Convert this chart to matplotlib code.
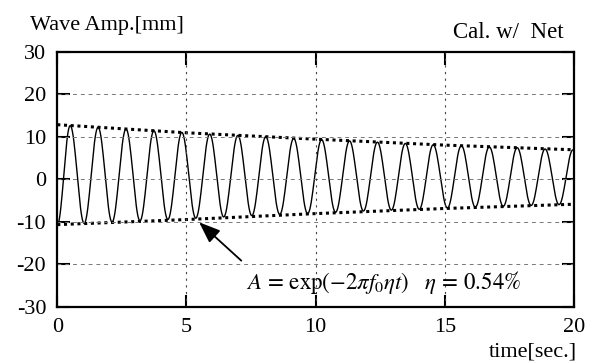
import numpy as np
import matplotlib
matplotlib.use('Agg')
import matplotlib.pyplot as plt

plt.rcParams['font.family'] = ['Liberation Serif', 'DejaVu Serif']
plt.rcParams['mathtext.fontset'] = 'stix'
plt.rcParams['axes.unicode_minus'] = False

# wave extrema (time [s], amplitude [mm])
peak_t = [0.50, 1.58, 2.66, 3.74, 4.82, 5.90, 6.99, 8.07, 9.15, 10.23,
          11.31, 12.39, 13.47, 14.55, 15.64, 16.72, 17.80, 18.88, 19.96]
peak_v = [12.6, 12.2, 11.8, 11.4, 11.0, 10.6, 10.3, 10.0, 9.6, 9.3,
          9.0, 8.7, 8.4, 8.1, 7.9, 7.6, 7.4, 7.1, 6.9]
trough_t = [0.00, 1.04, 2.12, 3.20, 4.28, 5.36, 6.44, 7.53, 8.61, 9.69,
            10.77, 11.85, 12.93, 14.01, 15.10, 16.18, 17.26, 18.34, 19.42]
trough_v = [-10.8, -10.4, -10.1, -9.8, -9.5, -9.2, -8.9, -8.6, -8.3, -8.1,
            -7.8, -7.5, -7.3, -7.1, -6.8, -6.6, -6.4, -6.2, -6.0]

# fitted envelope A = exp(-2 pi f0 eta t)
env_t = [0, 5, 10, 15, 20]
env_upper = [12.8, 10.9, 9.4, 8.0, 6.9]
env_lower = [-10.7, -9.5, -8.1, -6.9, -5.9]

# join extrema with half-cosine arcs
ext_t = []
ext_v = []
for k in range(len(trough_t)):
    ext_t += [trough_t[k], peak_t[k]]
    ext_v += [trough_v[k], peak_v[k]]
wave_t = []
wave_v = []
for k in range(len(ext_t) - 1):
    s = np.linspace(0, 1, 20)
    wave_t += list(ext_t[k] + (ext_t[k+1] - ext_t[k]) * s)
    wave_v += list(ext_v[k] + (ext_v[k+1] - ext_v[k]) * (1 - np.cos(np.pi * s)) / 2)

fig = plt.figure(figsize=(5.93, 3.63), dpi=100)
ax = fig.add_axes([0.0966, 0.155, 0.8714, 0.703])

ax.plot(wave_t, wave_v, color='black', lw=1.0)
ax.plot(env_t, env_upper, color='black', lw=2.2, linestyle=(0, (1, 1.2)))
ax.plot(env_t, env_lower, color='black', lw=2.2, linestyle=(0, (1, 1.2)))

ax.set_xlim(0, 20)
ax.set_ylim(-30, 30)
ax.set_xticks([0, 5, 10, 15, 20])
ax.set_yticks([-30, -20, -10, 0, 10, 20, 30])
for y in [-20, -10, 0, 10, 20]:
    ax.axhline(y, color='#777777', lw=0.7, linestyle=(0, (4, 4)))
for x in [5, 10, 15]:
    ax.axvline(x, color='#444444', lw=0.8, linestyle=(0, (2, 4)))

ax.tick_params(direction='in', length=9, width=1.5, labelsize=16,
               top=True, right=True)
ax.tick_params(axis='x', pad=8)
ax.tick_params(axis='y', pad=8)
for sp in ax.spines.values():
    sp.set_linewidth(1.6)

fig.text(0.05, 0.93, 'Wave Amp.[mm]', fontsize=16, va='center')
fig.text(0.95, 0.91, 'Cal. w/  Net', fontsize=16.5, va='center', ha='right')
fig.text(0.973, 0.03, 'time[sec.]', fontsize=16, va='center', ha='right')

ax.annotate('', xy=(5.41, -9.7), xytext=(7.2, -19.6),
            arrowprops=dict(arrowstyle='-|>,head_length=1.3,head_width=0.5',
                            color='black', lw=1.3))
ax.text(7.3, -24.2, r'$A\,=\,\exp(-2\pi f_0 \eta t)\ \ \ \eta\,=\,0.54\%$',
        fontsize=16.5, va='center', ha='left')

fig.savefig('out.png', dpi=100)
